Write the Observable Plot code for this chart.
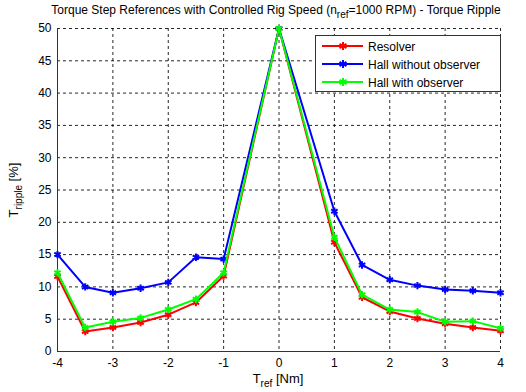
<!DOCTYPE html>
<html>
<head>
<meta charset="utf-8">
<script src="https://cdn.jsdelivr.net/npm/d3@7"></script>
<script src="https://cdn.jsdelivr.net/npm/@observablehq/plot@0.6"></script>
<style>
  html, body { margin: 0; padding: 0; background: white; }
  #chart svg { display: block; }
</style>
</head>
<body>
<div id="chart"></div>
<script>
const tref = [-4, -3.5, -3, -2.5, -2, -1.5, -1, 0, 1, 1.5, 2, 2.5, 3, 3.5, 4];
const resolver = [11.6, 3.1, 3.7, 4.5, 5.7, 7.6, 11.7, 50, 16.9, 8.4, 6.2, 5.1, 4.3, 3.7, 3.2];
const hallWithout = [15.0, 10.0, 9.1, 9.8, 10.7, 14.6, 14.3, 50, 21.7, 13.4, 11.1, 10.2, 9.6, 9.4, 9.1];
const hallWith = [12.2, 3.7, 4.6, 5.2, 6.5, 8.1, 12.2, 50, 17.7, 8.8, 6.5, 6.1, 4.6, 4.7, 3.6];
const seriesNames = ["Resolver", "Hall without observer", "Hall with observer"];
const seriesColors = ["#ff0000", "#0000ff", "#00ff00"];
const xTicks = [-4, -3, -2, -1, 0, 1, 2, 3, 4];
const yTicks = [0, 5, 10, 15, 20, 25, 30, 35, 40, 45, 50];

const seriesValues = [resolver, hallWithout, hallWith];
const data = seriesNames.flatMap((name, i) =>
  tref.map((t, j) => ({series: name, x: t, y: seriesValues[i][j]}))
);

const font = "'Liberation Sans', Arial, sans-serif";

const marks = [
  Plot.gridX(xTicks, {stroke: "black", strokeOpacity: 0.85, strokeDasharray: "3,3", strokeWidth: 1}),
  Plot.gridY(yTicks, {stroke: "black", strokeOpacity: 0.85, strokeDasharray: "3,3", strokeWidth: 1}),
  Plot.ruleX([-4], {stroke: "#333"}),
  Plot.ruleY([0], {stroke: "#333"}),
  Plot.axisX({ticks: xTicks, tickSize: 0, tickPadding: 7, label: null, fontSize: 12, tickFormat: d => String(d)}),
  Plot.axisY({ticks: yTicks, tickSize: 0, tickPadding: 6, label: null, fontSize: 12}),
];
seriesNames.forEach((name, i) => {
  const d = data.filter(r => r.series === name);
  marks.push(Plot.line(d, {x: "x", y: "y", stroke: seriesColors[i], strokeWidth: 2}));
  marks.push(Plot.dot(d, {x: "x", y: "y", stroke: seriesColors[i], symbol: "asterisk", r: 3.5, strokeWidth: 2}));
});

const chart = Plot.plot({
  width: 526,
  height: 392,
  marginLeft: 57,
  marginRight: 26,
  marginTop: 28,
  marginBottom: 41,
  x: {domain: [-4, 4]},
  y: {domain: [0, 50]},
  style: {fontFamily: font, fontSize: "12px", color: "black", background: "white"},
  marks
});

const svg = d3.select(chart);
// Title
const title = svg.append("text")
  .attr("x", 276).attr("y", 14)
  .attr("text-anchor", "middle")
  .attr("font-family", font).attr("font-size", 12).attr("fill", "black");
title.append("tspan").text("Torque Step References with Controlled Rig Speed (n");
title.append("tspan").attr("dy", 4).attr("font-size", 10).text("ref");
title.append("tspan").attr("dy", -4).text("=1000 RPM) - Torque Ripple");

// X label
const xl = svg.append("text")
  .attr("x", 278).attr("y", 383)
  .attr("text-anchor", "middle")
  .attr("font-family", font).attr("font-size", 13).attr("fill", "black");
xl.append("tspan").text("T");
xl.append("tspan").attr("dy", 4).attr("font-size", 10).text("ref");
xl.append("tspan").attr("dy", -4).text(" [Nm]");

// Y label
const yl = svg.append("text")
  .attr("transform", "translate(18,190) rotate(-90)")
  .attr("text-anchor", "middle")
  .attr("font-family", font).attr("font-size", 13).attr("fill", "black");
yl.append("tspan").text("T");
yl.append("tspan").attr("dy", 4).attr("font-size", 10).text("ripple");
yl.append("tspan").attr("dy", -4).text(" [%]");

// Legend
const lg = svg.append("g");
lg.append("rect").attr("x", 315.5).attr("y", 35.5).attr("width", 185).attr("height", 56)
  .attr("fill", "white").attr("stroke", "#333").attr("stroke-width", 1);
seriesNames.forEach((name, i) => {
  const yy = 46 + i * 18;
  lg.append("line").attr("x1", 322).attr("x2", 363).attr("y1", yy).attr("y2", yy)
    .attr("stroke", seriesColors[i]).attr("stroke-width", 2);
  lg.append("path").attr("d", d3.symbol(d3.symbolAsterisk, 45)())
    .attr("transform", `translate(343,${yy})`)
    .attr("stroke", seriesColors[i]).attr("stroke-width", 2).attr("fill", "none");
  lg.append("text").attr("x", 368).attr("y", yy + 4.5)
    .attr("text-anchor", "start")
    .attr("font-family", font).attr("font-size", 12).attr("fill", "black").text(name);
});

document.getElementById("chart").appendChild(chart);
</script>
</body>
</html>
